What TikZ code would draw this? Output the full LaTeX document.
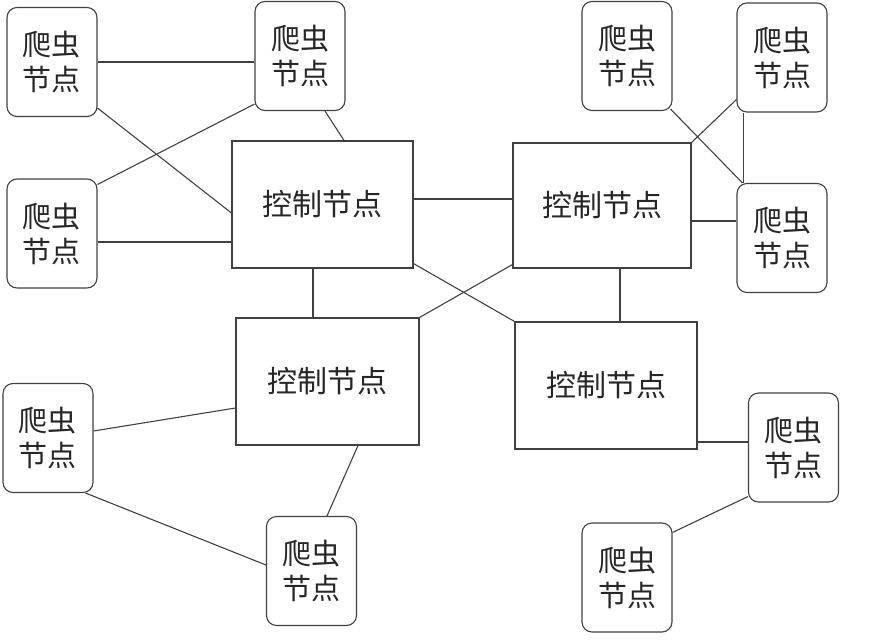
\documentclass[tikz,border=0pt]{standalone}
\usepackage{fontspec}
\newfontfamily\cjk{Noto Sans CJK SC}
\begin{document}
\begin{tikzpicture}[x=1pt,y=-1pt,
  every node/.style={inner sep=0pt,align=center,font=\cjk\fontsize{29}{35}\selectfont,text=black!85},
  crawler/.style={draw=black!75,line width=1.1pt,rounded corners=10pt,minimum width=90pt,minimum height=109pt},
  ctrl/.style={draw=black!75,line width=1.1pt,minimum width=181pt,minimum height=127pt,font=\cjk\fontsize{30}{36}\selectfont},
  link/.style={draw=black!75,line width=1.1pt}]
\useasboundingbox (0,0) rectangle (876,640);
% crawler nodes
\node[crawler] (A1) at (52,62) {爬虫\\节点};
\node[crawler] (A2) at (300,56) {爬虫\\节点};
\node[crawler] (A3) at (52,233.5) {爬虫\\节点};
\node[crawler] (A4) at (627,56) {爬虫\\节点};
\node[crawler] (A5) at (782,57.5) {爬虫\\节点};
\node[crawler] (A6) at (782,238) {爬虫\\节点};
\node[crawler] (A7) at (48,438) {爬虫\\节点};
\node[crawler] (A8) at (311.5,571) {爬虫\\节点};
\node[crawler] (A9) at (793.5,447.5) {爬虫\\节点};
\node[crawler] (A10) at (627,577.5) {爬虫\\节点};
% control nodes
\node[ctrl] (C1) at (322.5,204.5) {控制节点};
\node[ctrl,minimum width=178pt,minimum height=125pt] (C2) at (602,205.5) {控制节点};
\node[ctrl,minimum width=183pt] (C3) at (327.5,381.5) {控制节点};
\node[ctrl,minimum width=182pt] (C4) at (606,385.5) {控制节点};
% connectors
\path[link] (A1.east) -- ([yshift=-6pt]A2.west);
\path[link] ([yshift=9pt]A1.south east) -- ([yshift=-8.5pt]C1.west);
\path[link] ([yshift=-6pt]A3.north east) -- ([yshift=7pt]A2.south west);
\path[link] ([yshift=-8.5pt]A3.east) -- ([yshift=-37.5pt]C1.west);
\path[link] ([xshift=25pt]A2.south) -- ([xshift=21.5pt]C1.north);
\path[link] ([yshift=5.5pt]C1.east) -- ([yshift=6.5pt]C2.west);
\path[link] ([xshift=-9.5pt]C1.south) -- ([xshift=-14.5pt]C3.north);
\path[link] ([yshift=5pt]C1.south east) -- (C4.north west);
\path[link] ([yshift=4pt]C2.south west) -- (C3.north east);
\path[link] ([xshift=18pt]C2.south) -- ([xshift=14pt]C4.north);
\path[link] ([xshift=-2pt,yshift=2pt]A4.south east) -- ([xshift=6pt]A6.north west);
\path[link] ([yshift=13pt]A5.south west) -- (C2.north east);
\path[link] ([xshift=7pt]A5.south west) -- ([xshift=7pt]A6.north west);
\path[link] ([yshift=-15.5pt]C2.east) -- ([yshift=17pt]A6.west);
\path[link] ([yshift=-26.5pt]C3.west) -- ([yshift=7pt]A7.east);
\path[link] ([xshift=-8pt]A7.south east) -- ([yshift=6pt]A8.west);
\path[link] ([xshift=30.5pt]C3.south) -- ([xshift=15.5pt]A8.north);
\path[link] ([yshift=-56.5pt]C4.east) -- ([yshift=5.5pt]A9.west);
\path[link] ([yshift=6pt]A9.south west) -- ([yshift=-10pt]A10.north east);
\end{tikzpicture}
\end{document}
